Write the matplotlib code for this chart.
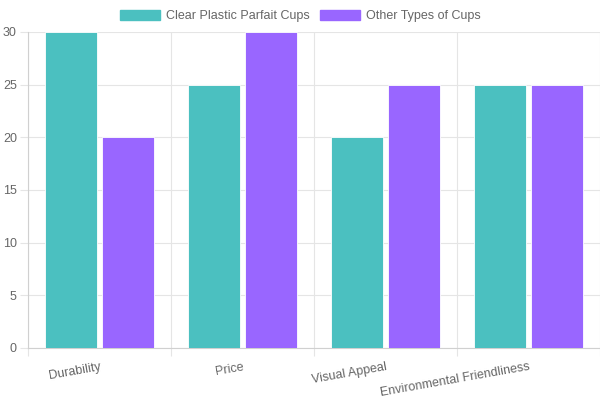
import matplotlib
matplotlib.use("Agg")
import matplotlib.pyplot as plt
import numpy as np
from matplotlib.patches import Patch

categories = ["Durability", "Price", "Visual Appeal", "Environmental Friendliness"]
clear_cups = [30, 25, 20, 25]
other_cups = [20, 30, 25, 25]
series_names = ["Clear Plastic Parfait Cups", "Other Types of Cups"]
yticks = [0, 5, 10, 15, 20, 25, 30]

teal = "#4BC0C0"
purple = "#9966FF"
grid_col = "#e5e5e5"
text_col = "#666666"

plt.rcParams["font.family"] = ["Liberation Sans", "DejaVu Sans"]

fig = plt.figure(figsize=(6, 4), dpi=100)
ax = fig.add_axes([28 / 600, 52 / 400, 572 / 600, 316 / 400])

x = np.arange(len(categories))
cat_w = 0.8
bar_w = cat_w / 2 * 0.9
ax.bar(x - cat_w / 4, clear_cups, bar_w, color=teal, edgecolor="#ffffff", linewidth=0.6, zorder=3)
ax.bar(x + cat_w / 4, other_cups, bar_w, color=purple, edgecolor="#ffffff", linewidth=0.6, zorder=3)

ax.set_xlim(-0.5, len(categories) - 0.5)
ax.set_ylim(0, 30)
ax.set_yticks(yticks)
ax.set_yticklabels([str(v) for v in yticks], color=text_col, fontsize=9)

# category boundaries as grid lines
ax.set_xticks(np.arange(len(categories) + 1) - 0.5, minor=False)
ax.set_xticklabels([])
ax.tick_params(axis="x", length=6, color=grid_col, width=0.8)
ax.tick_params(axis="y", length=6, color=grid_col, width=0.8, pad=2)
ax.grid(True, color=grid_col, linewidth=0.8, zorder=0)

for i, c in enumerate(categories):
    ax.text(i + 0.0, -1.25, c, rotation=10, ha="right", va="top",
            rotation_mode="anchor", color=text_col, fontsize=9)

for s in ["top", "right"]:
    ax.spines[s].set_visible(False)
for s in ["left", "bottom"]:
    ax.spines[s].set_color("#d0d0d0")
    ax.spines[s].set_linewidth(0.8)

handles = [Patch(facecolor=teal, edgecolor=teal), Patch(facecolor=purple, edgecolor=purple)]
fig.legend(handles, series_names, loc="center", bbox_to_anchor=(0.5, 0.96), ncol=2,
           frameon=False, handlelength=3.2, handleheight=0.9, handletextpad=0.5,
           columnspacing=0.8, fontsize=9, labelcolor=text_col)

fig.savefig("out.png", dpi=100)
